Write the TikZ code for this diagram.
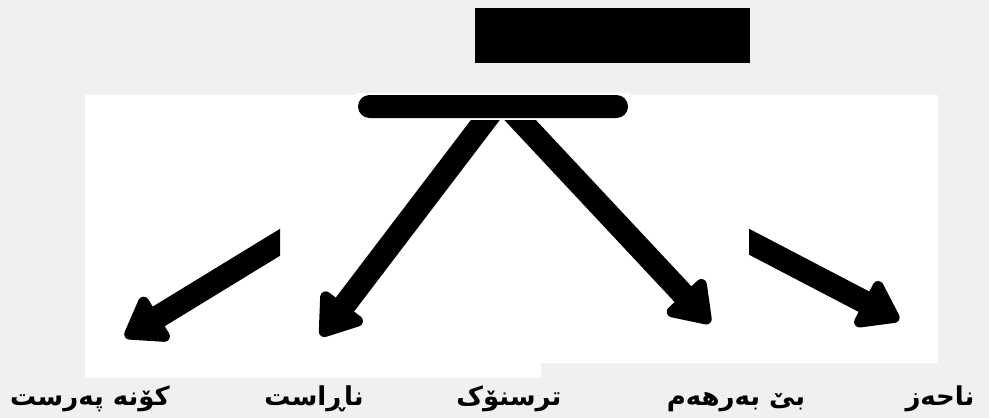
\documentclass[tikz,border=0pt]{standalone}
\usepackage{fontspec}
\newfontfamily\arabicfont[Script=Arabic]{DejaVu Sans}
\TeXXeTstate=1
\usetikzlibrary{arrows.meta}
\definecolor{bggray}{RGB}{240,240,240}
\begin{document}
\begin{tikzpicture}[x=1pt,y=-1pt,
  fat/.style={line width=23pt,-{Triangle[length=44pt,width=58pt,round,line width=20pt]}},
  lbl/.style={font=\arabicfont\bfseries\fontsize{26}{30}\selectfont,inner sep=0pt,anchor=base}]
\useasboundingbox (0,0) rectangle (989,418);
\fill[bggray] (0,0) rectangle (989,418);
% white panels
\fill[white] (85,95) rectangle (541,378);
\fill[white] (541,95) rectangle (938,363);
\fill[white] (357,93) rectangle (630,120);
% title block
\node[fill=black,minimum width=275pt,minimum height=55pt,inner sep=0pt] (title) at (612.5,35.5) {};
% bar
\node[fill=black,rounded corners=11.5pt,minimum width=270pt,minimum height=23pt,inner sep=0pt] (bar) at (493,106.5) {};
% named ends
\coordinate (s1) at (503,106);
\coordinate (s2) at (496,106);
\coordinate (s3) at (507,106);
\coordinate (s4) at (512,118);
\coordinate (t1) at (125,337);
\coordinate (t2) at (321,336);
\coordinate (t3) at (710,323);
\coordinate (t4) at (899,320);
% arrows
\begin{scope}
\clip (0,120) rectangle (280,418);
\draw[fat] (s1) -- (t1);
\end{scope}
\begin{scope}
\clip (0,120) rectangle (989,418);
\draw[fat] (s2) -- (t2);
\draw[fat] (s3) -- (t3);
\end{scope}
\begin{scope}
\clip (749,120) rectangle (989,418);
\draw[fat] (s4) -- (t4);
\end{scope}
% labels
\node[lbl] (l1) at (90,405) {\beginR کۆنە پەرست\endR};
\node[lbl] (l2) at (314,405) {\beginR ناڕاست\endR};
\node[lbl] (l3) at (509,405) {\beginR ترسنۆک\endR};
\node[lbl] (l4) at (736,405) {\beginR بێ بەرهەم\endR};
\node[lbl] (l5) at (940,405) {\beginR ناحەز\endR};
\end{tikzpicture}
\end{document}
